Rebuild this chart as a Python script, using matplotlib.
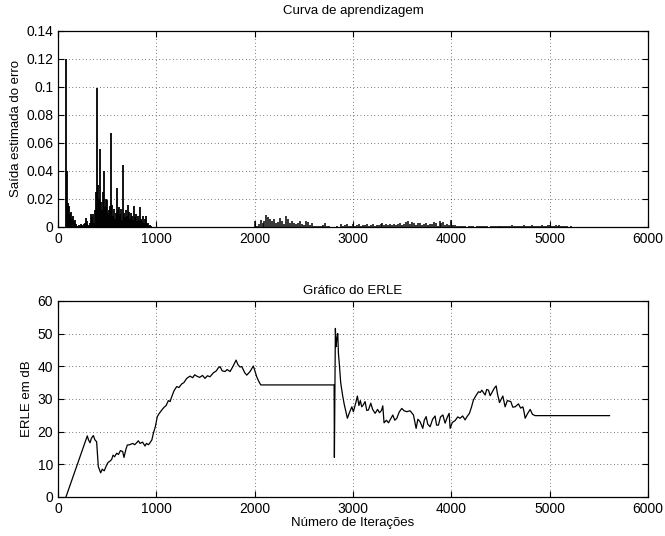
import numpy as np
import matplotlib
matplotlib.use("Agg")
import matplotlib.pyplot as plt

plt.rcParams['font.family'] = ['Liberation Sans', 'DejaVu Sans']

# ---- error output, peak per bin (first block: 10 iterations per bin from 80) ----
err_start_a = 80
err_step_a = 10
err_a = [0.120, 0.040, 0.017, 0.015, 0.009, 0.011, 0.006, 0.008, 0.004, 0.005,
         0.002, 0.001, 0.001, 0.0015, 0.001, 0.002, 0.0015, 0.001, 0.002, 0.003,
         0.0065, 0.004, 0.002, 0.001, 0.0015, 0.003, 0.009, 0.007, 0.009, 0.003,
         0.012, 0.025, 0.099, 0.030, 0.020, 0.056, 0.018, 0.012, 0.025, 0.040,
         0.014, 0.020, 0.019, 0.010, 0.012, 0.015, 0.067, 0.016, 0.008, 0.013,
         0.006, 0.010, 0.028, 0.012, 0.014, 0.009, 0.013, 0.005, 0.044, 0.010,
         0.007, 0.012, 0.008, 0.016, 0.011, 0.006, 0.010, 0.008, 0.005, 0.015,
         0.007, 0.009, 0.004, 0.008, 0.005, 0.014, 0.006, 0.004, 0.008, 0.003,
         0.006, 0.008, 0.005, 0.002, 0.003, 0.001, 0.0015, 0.0005, 0.0003, 0.0003,
         0.0003, 0.0003]

# second block: 20 iterations per bin from 2000
err_start_b = 2000
err_step_b = 20
err_b = [0.0043, 0.001, 0.002, 0.005, 0.003, 0.004, 0.0083, 0.007, 0.006, 0.004,
         0.0055, 0.003, 0.0035, 0.0066, 0.004, 0.002, 0.008, 0.0055, 0.003, 0.0045,
         0.0025, 0.002, 0.003, 0.0045, 0.002, 0.0015, 0.004, 0.0035, 0.0015, 0.0025,
         0.001, 0.0005, 0.0008, 0.0005, 0.0006, 0.0015, 0.0025, 0.001, 0.0004, 0.0003,
         0.0003, 0.0003, 0.0004, 0.0003, 0.0018, 0.001, 0.0015, 0.0018, 0.0008, 0.0005,
         0.002, 0.0008, 0.0012, 0.0018, 0.001, 0.0015, 0.0012, 0.0018, 0.0008, 0.0014,
         0.0019, 0.001, 0.0015, 0.0012, 0.0022, 0.0025, 0.0015, 0.0018, 0.0012, 0.002,
         0.0016, 0.0022, 0.0013, 0.0018, 0.0025, 0.0014, 0.0022, 0.0035, 0.0045, 0.002,
         0.0035, 0.0028, 0.0015, 0.003, 0.0025, 0.0012, 0.002, 0.0028, 0.0014, 0.0022,
         0.0018, 0.0035, 0.0025, 0.001, 0.0045, 0.003, 0.0035, 0.0015, 0.002, 0.0012,
         0.0047, 0.0012, 0.0015, 0.001, 0.0008, 0.0006, 0.0004, 0.0005, 0.0003, 0.0004,
         0.0006, 0.0004, 0.0003, 0.0008, 0.0005, 0.0004, 0.0009, 0.0004, 0.0006, 0.0003,
         0.0008, 0.0005, 0.001, 0.0004, 0.0006, 0.0009, 0.0004, 0.0005, 0.001, 0.0004,
         0.0007, 0.0011, 0.0004, 0.0006, 0.0009, 0.0004, 0.0008, 0.0012, 0.0005, 0.0009,
         0.0004, 0.0011, 0.0006, 0.0009, 0.0004, 0.001, 0.0012, 0.0005, 0.0007, 0.0013,
         0.0017, 0.0008, 0.0006, 0.0012, 0.0006, 0.0011, 0.0004, 0.0009, 0.0004, 0.0008,
         0.0003, 0.0005, 0.0002]

# ---- ERLE (dB) ----
erle_x = [81, 298, 310, 326, 340, 360, 375, 393, 410, 434, 450, 470, 495, 510, 530,
          546, 560, 575, 597, 615, 635, 658, 671, 690, 705, 730, 760, 780, 800, 817,
          835, 860, 885, 900, 920, 936, 955, 970, 990, 1010, 1030, 1055, 1080, 1100,
          1122, 1140, 1157, 1180, 1207, 1230, 1258, 1280, 1309, 1343, 1370, 1390, 1411,
          1440, 1470, 1495, 1520, 1546, 1580, 1610, 1630, 1648, 1670, 1699, 1720, 1750,
          1780, 1811, 1830, 1850, 1869, 1900, 1920, 1953, 1987, 2021, 2040, 2062,
          2808, 2811, 2818, 2821, 2828, 2835, 2845, 2852, 2862, 2875, 2886, 2895, 2903,
          2910, 2925, 2943, 2960, 2988, 3004, 3030, 3045, 3060, 3075, 3089, 3105, 3123,
          3140, 3157, 3181, 3200, 3225, 3250, 3270, 3290, 3303, 3316, 3340, 3361, 3385,
          3405, 3425, 3446, 3470, 3496, 3520, 3547, 3581, 3615, 3642, 3660, 3683, 3710,
          3725, 3744, 3760, 3784, 3810, 3835, 3850, 3869, 3890, 3914, 3937, 3960, 3978,
          3988, 4010, 4039, 4065, 4090, 4115, 4140, 4160, 4184, 4205, 4225, 4250, 4276,
          4295, 4310, 4344, 4360, 4378, 4395, 4412, 4435, 4456, 4470, 4490, 4524, 4547,
          4570, 4605, 4625, 4649, 4683, 4705, 4728, 4740, 4751, 4775, 4802, 4825, 4853,
          5609]
erle_y = [0.0, 18.7, 17.5, 16.6, 18.0, 18.8, 17.5, 16.9, 9.3, 7.4, 8.5, 8.0, 9.8, 10.6, 11.0,
          11.5, 12.8, 12.3, 13.4, 13.0, 14.2, 13.9, 12.1, 14.5, 15.9, 16.0, 16.4, 16.0, 16.6, 17.2,
          16.4, 16.8, 15.6, 16.4, 16.0, 16.6, 17.5, 19.5, 21.5, 24.6, 25.6, 26.6, 27.5, 28.0,
          29.5, 29.2, 30.7, 32.5, 33.8, 33.5, 34.6, 35.0, 36.3, 37.0, 36.5, 37.4, 37.0,
          36.6, 37.2, 36.3, 37.1, 36.8, 38.0, 38.6, 39.5, 39.9, 38.6, 38.4, 39.0, 38.4,
          40.0, 41.9, 40.5, 39.8, 39.9, 38.0, 37.3, 38.4, 40.1, 36.8, 35.5, 34.3,
          34.3, 12.1, 40.0, 51.6, 46.0, 48.3, 50.0, 44.0, 40.4, 35.0, 32.7, 31.0, 29.7,
          28.5, 26.5, 24.1, 25.5, 27.6, 26.1, 29.0, 30.9, 28.0, 29.5, 27.6, 28.2, 29.2,
          26.5, 26.6, 28.7, 26.8, 25.6, 26.8, 25.8, 26.5, 27.9, 22.7, 23.5, 22.7, 24.0,
          25.1, 23.5, 24.1, 26.0, 27.1, 26.4, 26.1, 26.4, 25.1, 21.0, 23.8, 23.0, 21.0,
          23.5, 24.6, 22.3, 21.5, 23.8, 24.8, 22.0, 22.0, 24.5, 25.1, 22.6, 24.5, 25.6,
          21.0, 22.8, 23.4, 24.5, 24.1, 24.8, 23.6, 24.6, 25.6, 27.5, 29.7, 31.0, 32.2,
          32.0, 32.7, 31.2, 32.9, 32.7, 31.0, 31.9, 33.2, 34.0, 31.5, 28.9, 30.9, 27.6,
          29.5, 29.2, 27.5, 27.6, 28.5, 27.2, 27.6, 26.0, 24.1, 25.5, 26.8, 25.3, 24.9,
          24.9]

fig = plt.figure(figsize=(6.65, 5.36), dpi=100)
ax1 = fig.add_axes([0.0872, 0.5765, 0.8872, 0.3657])
ax2 = fig.add_axes([0.0872, 0.0728, 0.8872, 0.3657])

xa = err_start_a + err_step_a * np.arange(len(err_a))
xb = err_start_b + err_step_b * np.arange(len(err_b))
ax1.vlines(xa, 0, err_a, color='black', lw=1.3)
ax1.vlines(xb, 0, err_b, color='black', lw=1.1)
ax1.set_xlim(0, 6000)
ax1.set_ylim(0, 0.14)
ax1.set_yticks([0, 0.02, 0.04, 0.06, 0.08, 0.1, 0.12, 0.14])
ax1.set_yticklabels(['0', '0.02', '0.04', '0.06', '0.08', '0.1', '0.12', '0.14'])
ax1.set_title('Curva de aprendizagem', fontsize=9.5, pad=12)
ax1.set_ylabel('Saída estimada do erro', fontsize=9.5, labelpad=3)

ax2.plot(erle_x, erle_y, color='black', lw=0.9)
ax2.set_xlim(0, 6000)
ax2.set_ylim(0, 60)
ax2.set_yticks(range(0, 61, 10))
ax2.set_title('Gráfico do ERLE', fontsize=9.5, pad=5)
ax2.set_ylabel('ERLE em dB', fontsize=9.5, labelpad=3)
ax2.set_xlabel('Número de Iterações', fontsize=9.5, labelpad=1)

for ax in (ax1, ax2):
    ax.set_xticks(range(0, 6001, 1000))
    ax.grid(True, color='black', linestyle=(0, (1, 4)), linewidth=0.5)
    ax.tick_params(direction='in', top=True, right=True, labelsize=10, length=4, width=0.8)
    for s in ax.spines.values():
        s.set_linewidth(0.9)

fig.savefig('out.png', dpi=100)
